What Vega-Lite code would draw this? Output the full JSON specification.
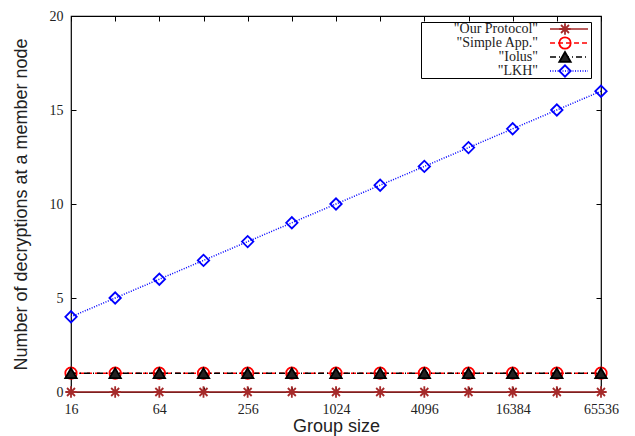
{
  "$schema": "https://vega.github.io/schema/vega-lite/v6.json",
  "width": 530,
  "height": 376,
  "autosize": {"type": "none"},
  "padding": {"left": 71, "top": 16, "right": 34, "bottom": 44},
  "background": "white",
  "config": {
    "view": {"stroke": "black", "strokeWidth": 1.2},
    "axis": {
      "domain": false,
      "grid": false,
      "tickColor": "black",
      "tickSize": -5,
      "labelFont": "Liberation Serif",
      "labelFontSize": 14,
      "labelColor": "#222",
      "titleFont": "Liberation Sans",
      "titleFontSize": 18,
      "titleFontWeight": "normal",
      "titleColor": "#222"
    },
    "legend": {
      "labelFont": "Liberation Serif",
      "labelFontSize": 14,
      "labelColor": "#222",
      "padding": 0,
      "rowPadding": 0,
      "labelAlign": "right"
    }
  },
  "data": {
    "values": [
      {"n": 16, "s": "\"Our Protocol\"", "m": "Our Protocol", "d": 0}, {"n": 32, "s": "\"Our Protocol\"", "m": "Our Protocol", "d": 0}, {"n": 64, "s": "\"Our Protocol\"", "m": "Our Protocol", "d": 0}, {"n": 128, "s": "\"Our Protocol\"", "m": "Our Protocol", "d": 0}, {"n": 256, "s": "\"Our Protocol\"", "m": "Our Protocol", "d": 0}, {"n": 512, "s": "\"Our Protocol\"", "m": "Our Protocol", "d": 0}, {"n": 1024, "s": "\"Our Protocol\"", "m": "Our Protocol", "d": 0}, {"n": 2048, "s": "\"Our Protocol\"", "m": "Our Protocol", "d": 0}, {"n": 4096, "s": "\"Our Protocol\"", "m": "Our Protocol", "d": 0}, {"n": 8192, "s": "\"Our Protocol\"", "m": "Our Protocol", "d": 0}, {"n": 16384, "s": "\"Our Protocol\"", "m": "Our Protocol", "d": 0}, {"n": 32768, "s": "\"Our Protocol\"", "m": "Our Protocol", "d": 0}, {"n": 65536, "s": "\"Our Protocol\"", "m": "Our Protocol", "d": 0},
      {"n": 16, "s": "\"Simple App.\"", "m": "Simple App.", "d": 1}, {"n": 32, "s": "\"Simple App.\"", "m": "Simple App.", "d": 1}, {"n": 64, "s": "\"Simple App.\"", "m": "Simple App.", "d": 1}, {"n": 128, "s": "\"Simple App.\"", "m": "Simple App.", "d": 1}, {"n": 256, "s": "\"Simple App.\"", "m": "Simple App.", "d": 1}, {"n": 512, "s": "\"Simple App.\"", "m": "Simple App.", "d": 1}, {"n": 1024, "s": "\"Simple App.\"", "m": "Simple App.", "d": 1}, {"n": 2048, "s": "\"Simple App.\"", "m": "Simple App.", "d": 1}, {"n": 4096, "s": "\"Simple App.\"", "m": "Simple App.", "d": 1}, {"n": 8192, "s": "\"Simple App.\"", "m": "Simple App.", "d": 1}, {"n": 16384, "s": "\"Simple App.\"", "m": "Simple App.", "d": 1}, {"n": 32768, "s": "\"Simple App.\"", "m": "Simple App.", "d": 1}, {"n": 65536, "s": "\"Simple App.\"", "m": "Simple App.", "d": 1},
      {"n": 16, "s": "\"Iolus\"", "m": "Iolus", "d": 1}, {"n": 32, "s": "\"Iolus\"", "m": "Iolus", "d": 1}, {"n": 64, "s": "\"Iolus\"", "m": "Iolus", "d": 1}, {"n": 128, "s": "\"Iolus\"", "m": "Iolus", "d": 1}, {"n": 256, "s": "\"Iolus\"", "m": "Iolus", "d": 1}, {"n": 512, "s": "\"Iolus\"", "m": "Iolus", "d": 1}, {"n": 1024, "s": "\"Iolus\"", "m": "Iolus", "d": 1}, {"n": 2048, "s": "\"Iolus\"", "m": "Iolus", "d": 1}, {"n": 4096, "s": "\"Iolus\"", "m": "Iolus", "d": 1}, {"n": 8192, "s": "\"Iolus\"", "m": "Iolus", "d": 1}, {"n": 16384, "s": "\"Iolus\"", "m": "Iolus", "d": 1}, {"n": 32768, "s": "\"Iolus\"", "m": "Iolus", "d": 1}, {"n": 65536, "s": "\"Iolus\"", "m": "Iolus", "d": 1},
      {"n": 16, "s": "\"LKH\"", "m": "LKH", "d": 4}, {"n": 32, "s": "\"LKH\"", "m": "LKH", "d": 5}, {"n": 64, "s": "\"LKH\"", "m": "LKH", "d": 6}, {"n": 128, "s": "\"LKH\"", "m": "LKH", "d": 7}, {"n": 256, "s": "\"LKH\"", "m": "LKH", "d": 8}, {"n": 512, "s": "\"LKH\"", "m": "LKH", "d": 9}, {"n": 1024, "s": "\"LKH\"", "m": "LKH", "d": 10}, {"n": 2048, "s": "\"LKH\"", "m": "LKH", "d": 11}, {"n": 4096, "s": "\"LKH\"", "m": "LKH", "d": 12}, {"n": 8192, "s": "\"LKH\"", "m": "LKH", "d": 13}, {"n": 16384, "s": "\"LKH\"", "m": "LKH", "d": 14}, {"n": 32768, "s": "\"LKH\"", "m": "LKH", "d": 15}, {"n": 65536, "s": "\"LKH\"", "m": "LKH", "d": 16}
    ]
  },
  "layer": [
    {
      "mark": {"type": "line", "strokeWidth": 1.5},
      "encoding": {
        "x": {"field": "n", "type": "quantitative",
          "scale": {"type": "log", "base": 2, "domain": [16, 65536], "nice": false},
          "axis": {"orient": "bottom", "values": [16, 32, 64, 128, 256, 512, 1024, 2048, 4096, 8192, 16384, 32768, 65536],
            "labelExpr": "round(log(datum.value)/LN2) % 2 == 0 ? '' + datum.value : ''",
            "labelFlush": false, "labelPadding": 15, "title": "Group size", "titlePadding": 1}},
        "y": {"field": "d", "type": "quantitative",
          "scale": {"domain": [0, 20], "nice": false},
          "axis": {"orient": "left", "values": [0, 5, 10, 15, 20], "labelPadding": 13,
            "title": "Number of decryptions at a member node", "titlePadding": 19}},
        "color": {"field": "s", "type": "nominal",
          "scale": {"domain": ["\"Our Protocol\"", "\"Simple App.\"", "\"Iolus\"", "\"LKH\""], "range": ["#a52a2a", "#ff0000", "#000000", "#0000ff"]},
          "legend": {"title": null, "orient": "none", "legendX": 350, "legendY": 6, "strokeColor": "black", "symbolType": "M-9.5,0L9.5,0", "symbolSize": 16, "symbolStrokeWidth": 1.5, "labelAlign": "right", "labelOffset": -38, "symbolOffset": 141}},
        "strokeDash": {"field": "s", "type": "nominal",
          "scale": {"domain": ["\"Our Protocol\"", "\"Simple App.\"", "\"Iolus\"", "\"LKH\""], "range": [[1, 0], [5, 3], [6, 3, 1, 3], [1, 1.5]]},
          "legend": {"title": null}}
      }
    },
    {
      "mark": {"type": "point", "filled": false, "size": 130, "strokeWidth": 1.8, "opacity": 1},
      "encoding": {
        "x": {"field": "n", "type": "quantitative",
          "scale": {"type": "log", "base": 2, "domain": [16, 65536], "nice": false},
          "axis": {"orient": "top", "values": [16, 32, 64, 128, 256, 512, 1024, 2048, 4096, 8192, 16384, 32768, 65536], "labels": false, "title": null}},
        "y": {"field": "d", "type": "quantitative",
          "scale": {"domain": [0, 20], "nice": false},
          "axis": {"orient": "right", "values": [0, 5, 10, 15, 20], "labels": false, "title": null}},
        "stroke": {"field": "m", "type": "nominal",
          "scale": {"domain": ["Our Protocol", "Simple App.", "Iolus", "LKH"], "range": ["#a52a2a", "#ff0000", "#000000", "#0000ff"]},
          "legend": {"title": null, "orient": "none", "legendX": 350, "legendY": 6, "clipHeight": 14, "labelExpr": "''", "symbolOffset": 137, "symbolStrokeWidth": 1.8, "symbolSize": 130}},
        "shape": {"field": "m", "type": "nominal",
          "scale": {"domain": ["Our Protocol", "Simple App.", "Iolus", "LKH"], "range": ["M-1,0L1,0M0,-1L0,1M-0.7,-0.7L0.7,0.7M-0.7,0.7L0.7,-0.7", "circle", "triangle-up", "diamond"]},
          "legend": {"title": null}},
        "fill": {"field": "m", "type": "nominal",
          "scale": {"domain": ["Our Protocol", "Simple App.", "Iolus", "LKH"], "range": ["transparent", "transparent", "#222222", "transparent"]},
          "legend": {"title": null}}
      }
    }
  ],
  "resolve": {"axis": {"x": "independent", "y": "independent"}}
}
